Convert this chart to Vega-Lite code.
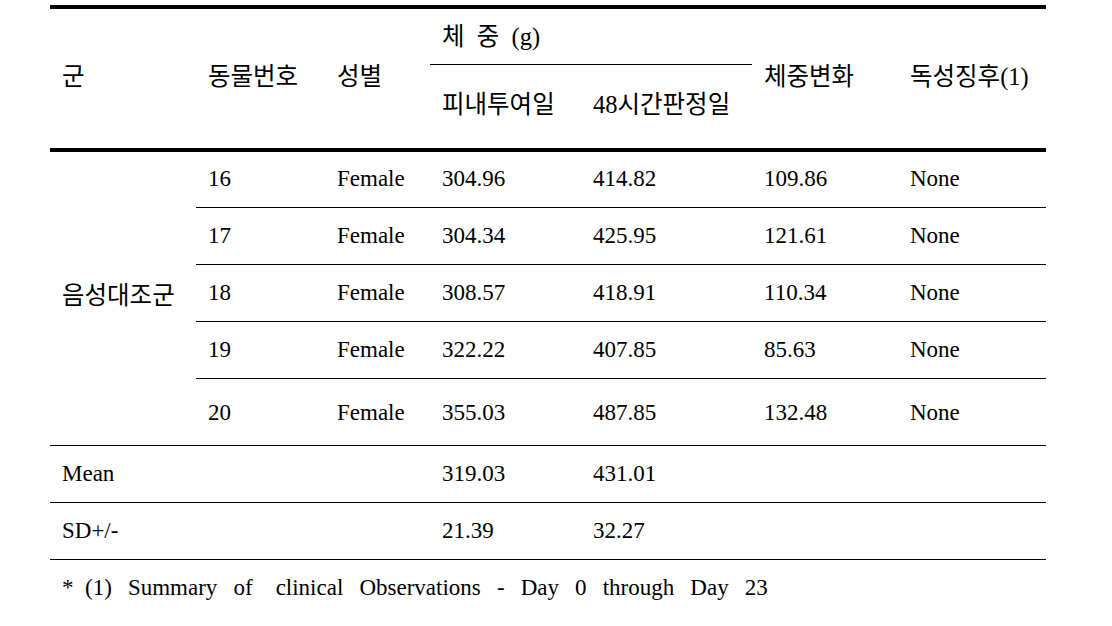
{
  "$schema": "https://vega.github.io/schema/vega-lite/v6.json",
  "width": 1112,
  "height": 626,
  "autosize": {"type": "none"},
  "padding": 0,
  "background": "white",
  "config": {"view": {"stroke": null}},
  "layer": [
    {
      "data": {"values": [
        {"row": 0, "x0": 0, "x1": 11, "kind": "thick"},
        {"row": 2, "x0": 5, "x1": 8, "kind": "thin"},
        {"row": 5, "x0": 0, "x1": 11, "kind": "thick"},
        {"row": 7, "x0": 2, "x1": 11, "kind": "thin"},
        {"row": 9, "x0": 2, "x1": 11, "kind": "thin"},
        {"row": 12, "x0": 2, "x1": 11, "kind": "thin"},
        {"row": 14, "x0": 2, "x1": 11, "kind": "thin"},
        {"row": 16, "x0": 0, "x1": 11, "kind": "thin"},
        {"row": 18, "x0": 0, "x1": 11, "kind": "thin"},
        {"row": 20, "x0": 0, "x1": 11, "kind": "thin"}
      ]},
      "mark": {"type": "rule", "color": "black", "strokeCap": "butt"},
      "encoding": {
        "x": {"field": "x0", "type": "quantitative", "axis": null,
              "scale": {"type": "linear", "nice": false, "zero": false,
                        "domain": [0,1,2,3,4,5,6,7,8,9,10,11],
                        "range": [50,62,196,208,337,430,442,593,752,764,910,1046]}},
        "x2": {"field": "x1"},
        "y": {"field": "row", "type": "quantitative", "axis": null,
              "scale": {"type": "linear", "nice": false, "zero": false,
                        "domain": [0,1,2,3,4,5,6,7,8,9,10,11,12,13,14,15,16,17,18,19,20,21],
                        "range": [7,38,64.5,78,106,150,179,207.5,236,264.5,293,297,321.5,350,378.5,413,445.5,474,502.5,531,559.5,588]}},
        "strokeWidth": {"field": "kind", "type": "nominal", "legend": null,
                        "scale": {"domain": ["thick", "thin"], "range": [4, 1]}}
      }
    },
    {
      "data": {"values": [
        {"row": 3, "col": 1, "t": "군", "part": "head"},
        {"row": 3, "col": 3, "t": "동물번호", "part": "head"},
        {"row": 3, "col": 4, "t": "성별", "part": "head"},
        {"row": 1, "col": 6, "t": "체\u00a0\u00a0중\u00a0\u00a0(g)", "part": "head"},
        {"row": 4, "col": 6, "t": "피내투여일", "part": "head"},
        {"row": 4, "col": 7, "t": "48시간판정일", "part": "head"},
        {"row": 3, "col": 9, "t": "체중변화", "part": "head"},
        {"row": 3, "col": 10, "t": "독성징후(1)", "part": "head"},
        {"row": 6, "col": 3, "t": "16", "part": "body"},
        {"row": 6, "col": 4, "t": "Female", "part": "body"},
        {"row": 6, "col": 6, "t": "304.96", "part": "body"},
        {"row": 6, "col": 7, "t": "414.82", "part": "body"},
        {"row": 6, "col": 9, "t": "109.86", "part": "body"},
        {"row": 6, "col": 10, "t": "None", "part": "body"},
        {"row": 8, "col": 3, "t": "17", "part": "body"},
        {"row": 8, "col": 4, "t": "Female", "part": "body"},
        {"row": 8, "col": 6, "t": "304.34", "part": "body"},
        {"row": 8, "col": 7, "t": "425.95", "part": "body"},
        {"row": 8, "col": 9, "t": "121.61", "part": "body"},
        {"row": 8, "col": 10, "t": "None", "part": "body"},
        {"row": 10, "col": 3, "t": "18", "part": "body"},
        {"row": 10, "col": 4, "t": "Female", "part": "body"},
        {"row": 10, "col": 6, "t": "308.57", "part": "body"},
        {"row": 10, "col": 7, "t": "418.91", "part": "body"},
        {"row": 10, "col": 9, "t": "110.34", "part": "body"},
        {"row": 10, "col": 10, "t": "None", "part": "body"},
        {"row": 11, "col": 1, "t": "음성대조군", "part": "head"},
        {"row": 13, "col": 3, "t": "19", "part": "body"},
        {"row": 13, "col": 4, "t": "Female", "part": "body"},
        {"row": 13, "col": 6, "t": "322.22", "part": "body"},
        {"row": 13, "col": 7, "t": "407.85", "part": "body"},
        {"row": 13, "col": 9, "t": "85.63", "part": "body"},
        {"row": 13, "col": 10, "t": "None", "part": "body"},
        {"row": 15, "col": 3, "t": "20", "part": "body"},
        {"row": 15, "col": 4, "t": "Female", "part": "body"},
        {"row": 15, "col": 6, "t": "355.03", "part": "body"},
        {"row": 15, "col": 7, "t": "487.85", "part": "body"},
        {"row": 15, "col": 9, "t": "132.48", "part": "body"},
        {"row": 15, "col": 10, "t": "None", "part": "body"},
        {"row": 17, "col": 1, "t": "Mean", "part": "body"},
        {"row": 17, "col": 6, "t": "319.03", "part": "body"},
        {"row": 17, "col": 7, "t": "431.01", "part": "body"},
        {"row": 19, "col": 1, "t": "SD+/-", "part": "body"},
        {"row": 19, "col": 6, "t": "21.39", "part": "body"},
        {"row": 19, "col": 7, "t": "32.27", "part": "body"},
        {"row": 21, "col": 1, "t": "*\u00a0\u00a0(1)\u00a0\u00a0\u2009Summary\u00a0\u00a0\u2009of\u00a0\u00a0\u00a0\u00a0clinical\u00a0\u00a0\u2009Observations\u00a0\u00a0\u2009-\u00a0\u00a0\u2009Day\u00a0\u00a0\u20090\u00a0\u00a0\u2009through\u00a0\u00a0\u2009Day\u00a0\u00a0\u200923", "part": "body"}
      ]},
      "mark": {"type": "text", "align": "left", "baseline": "middle",
               "font": "'Liberation Serif', 'Noto Sans CJK KR'", "color": "black"},
      "encoding": {
        "x": {"field": "col", "type": "quantitative", "axis": null,
              "scale": {"type": "linear", "nice": false, "zero": false,
                        "domain": [0,1,2,3,4,5,6,7,8,9,10,11],
                        "range": [50,62,196,208,337,430,442,593,752,764,910,1046]}},
        "y": {"field": "row", "type": "quantitative", "axis": null,
              "scale": {"type": "linear", "nice": false, "zero": false,
                        "domain": [0,1,2,3,4,5,6,7,8,9,10,11,12,13,14,15,16,17,18,19,20,21],
                        "range": [7,38,64.5,78,106,150,179,207.5,236,264.5,293,297,321.5,350,378.5,413,445.5,474,502.5,531,559.5,588]}},
        "size": {"field": "part", "type": "nominal", "legend": null,
                 "scale": {"domain": ["head", "body"], "range": [24.5, 23]}},
        "text": {"field": "t", "type": "nominal"}
      }
    }
  ]
}
